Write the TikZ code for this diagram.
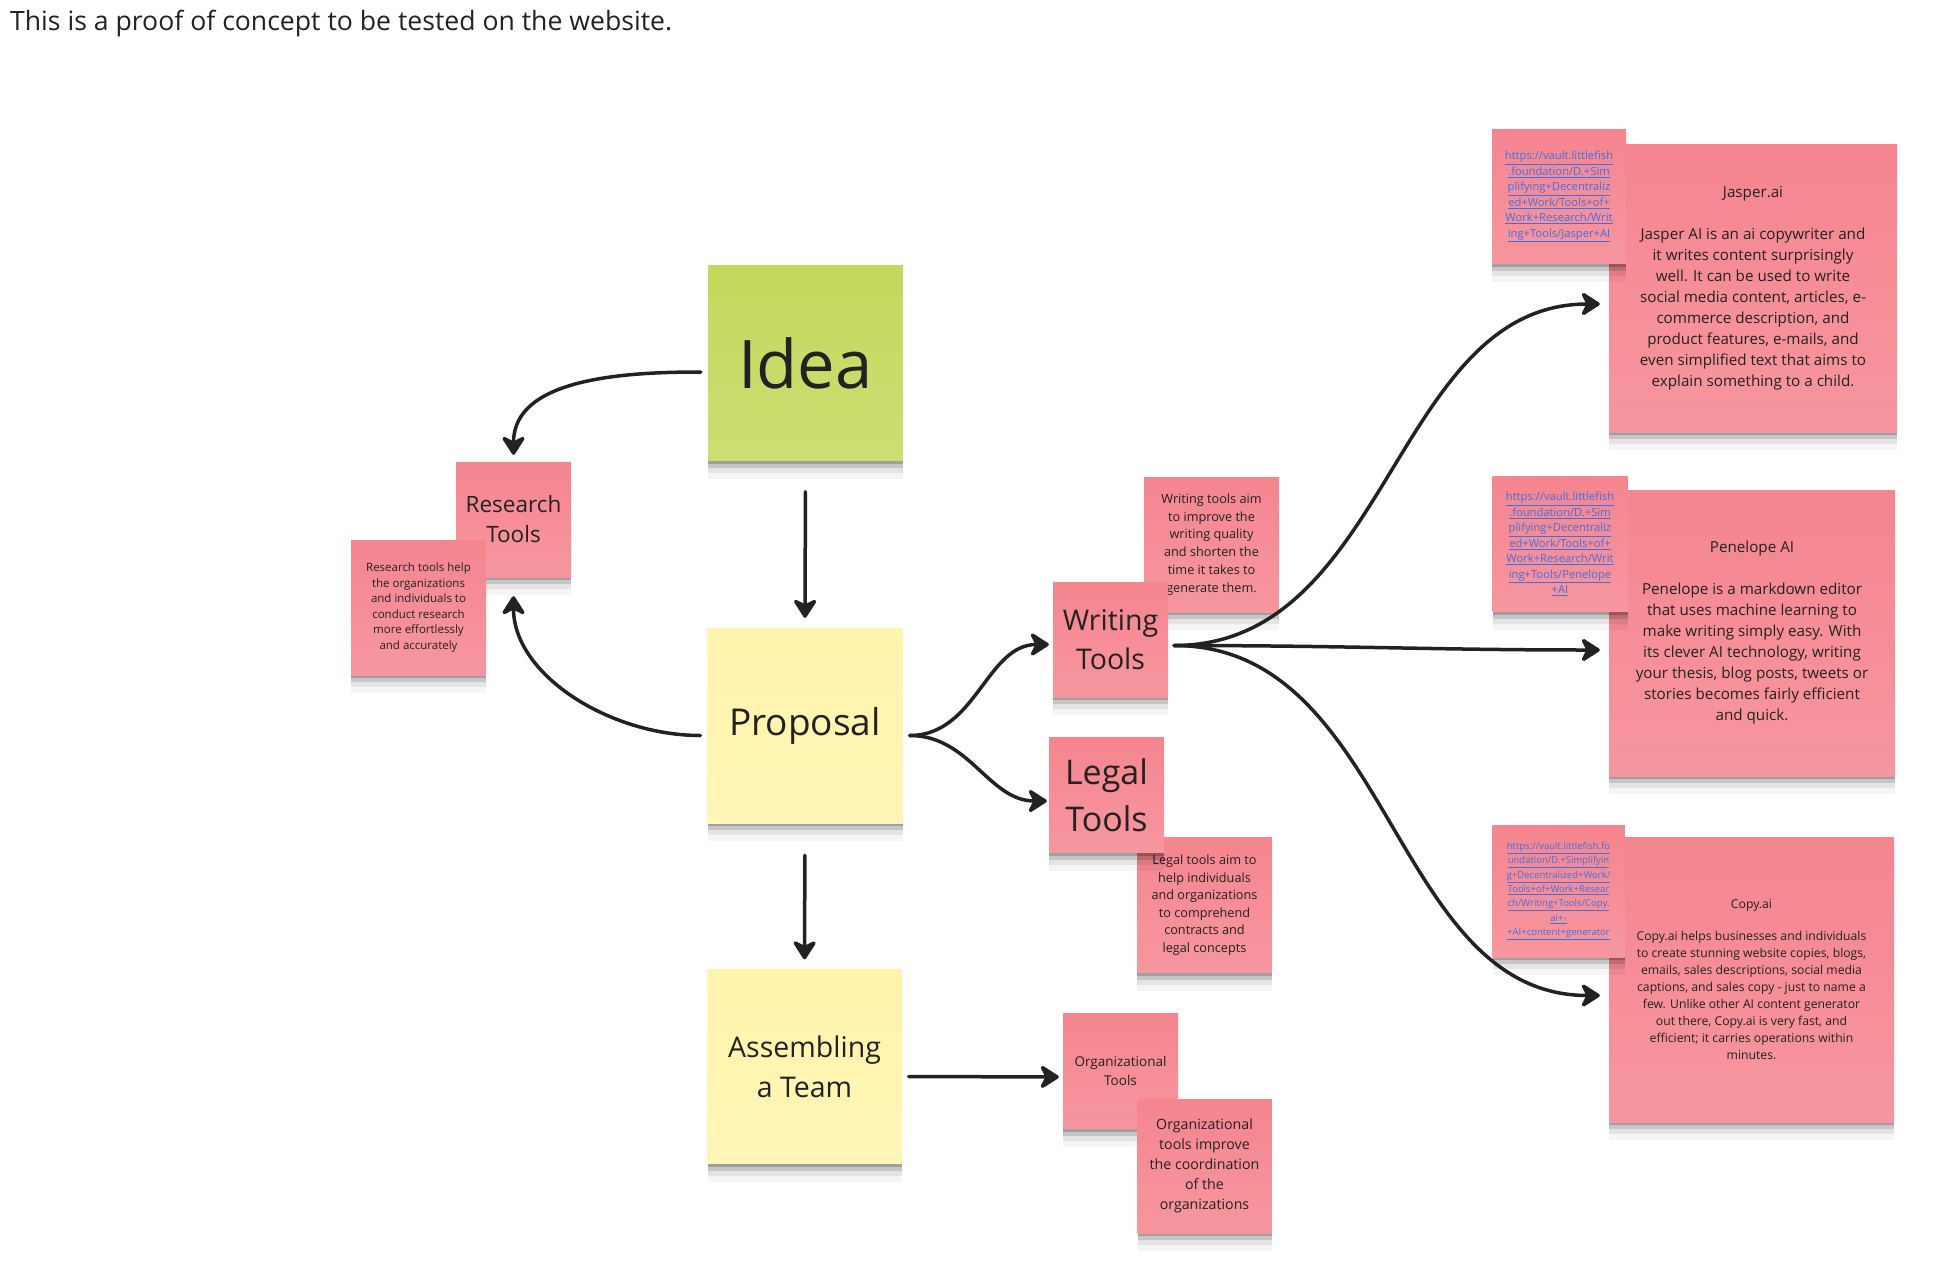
\documentclass[tikz,border=0pt]{standalone}
\usepackage{fontspec}
\setmainfont{Open Sans}
\usetikzlibrary{arrows.meta, shadows}

\definecolor{ink}{HTML}{222222}
\definecolor{ideagreen}{HTML}{C5D85C}
\definecolor{propyellow}{HTML}{FFF4AB}
\definecolor{notepink}{HTML}{F5858F}
\definecolor{linkblue}{HTML}{3F6FE6}
\newcommand{\lnk}[1]{\underline{#1}}
\newcommand{\fs}[2]{\fontsize{#1}{#2}\selectfont}

\begin{document}
\begin{tikzpicture}[x=1pt,y=-1pt]

\tikzset{note/.style = {shape=rectangle, minimum width=#1pt, minimum height=#1pt, inner sep=0pt, align=center, text=ink,
  drop shadow={shadow xshift=0pt, shadow yshift=-3pt, opacity=.2, fill=black},
  drop shadow={shadow xshift=0pt, shadow yshift=-7pt, opacity=.13, fill=black},
  drop shadow={shadow xshift=0pt, shadow yshift=-12pt, opacity=.07, fill=black},
  drop shadow={shadow xshift=0pt, shadow yshift=-18pt, opacity=.04, fill=black}}}
\tikzset{paper/.style = {fill=#1, path picture={\shade[top color=#1, bottom color=#1!86!white] (path picture bounding box.north west) rectangle (path picture bounding box.south east);}}}
\tikzset{edge/.style = {-{Stealth[length=22pt, width=28pt, inset=7pt, round]}, line width=3.5pt, draw=ink, line cap=round}}
\useasboundingbox (0,0) rectangle (1959,1266);

%title
\node[anchor=base west, inner sep=0pt, text=ink, font=\fs{26.6}{31}] (title) at (10,30) {This is a proof of concept to be tested on the website.};

%main stickies
\node[note=195, paper=ideagreen, font=\fs{67}{80}] (idea) at (805.5,363) {Idea};
\node[note=195, paper=propyellow, font=\fs{37}{44}] (prop) at (805,725.5) {Proposal};
\node[note=194, paper=propyellow, font=\fs{28.5}{40}] (team) at (804.5,1066.5) {Assembling\\a Team};

%research
\node[note=115, paper=notepink, font=\fs{22.5}{30}] (res) at (513.5,519.5) {Research\\Tools};
\node[note=135, paper=notepink, font=\fs{11.5}{15.6}] (resd) at (418.5,607.5) {Research tools help\\the organizations\\and individuals to\\conduct research\\more effortlessly\\and accurately};

%writing, legal, organizational
\node[note=135, paper=notepink, font=\fs{12.7}{17.8}] (wrid) at (1211.5,544.5) {Writing tools aim\\to improve the\\writing quality\\and shorten the\\time it takes to\\generate them.};
\node[note=115, paper=notepink, font=\fs{28.5}{39}] (wri) at (1110.5,639.5) {Writing\\Tools};
\node[note=135, paper=notepink, font=\fs{12.7}{17.5}] (legd) at (1204.5,905) {Legal tools aim to\\help individuals\\and organizations\\to comprehend\\contracts and\\legal concepts};
\node[note=115, paper=notepink, font=\fs{34}{47}] (leg) at (1106.5,795) {Legal\\Tools};
\node[note=115, paper=notepink, font=\fs{13.5}{19}] (org) at (1120.5,1071) {Organizational\\Tools};
\node[note=134, paper=notepink, font=\fs{14.2}{20}] (orgd) at (1204.5,1166) {Organizational\\tools improve\\the coordination\\of the\\organizations};

%writing tools
\node[note=288, paper=notepink, font=\fs{15.2}{21}] (jas) at (1753,288) {Jasper.ai\\[21pt]Jasper AI is an ai copywriter and\\it writes content surprisingly\\well. It can be used to write\\social media content, articles, e-\\commerce description, and\\product features, e-mails, and\\even simplified text that aims to\\explain something to a child.};
\node[note=134, paper=notepink, text=linkblue, font=\fs{11.2}{15.5}] (jasl) at (1559,196.5) {\lnk{https://vault.littlefish}\\\lnk{.foundation/D.+Sim}\\\lnk{plifying+Decentraliz}\\\lnk{ed+Work/Tools+of+}\\\lnk{Work+Research/Writ}\\\lnk{ing+Tools/Jasper+AI}};
\node[note=286, paper=notepink, font=\fs{15.2}{21}] (pen) at (1752,633) {Penelope AI\\[21pt]Penelope is a markdown editor\\that uses machine learning to\\make writing simply easy. With\\its clever AI technology, writing\\your thesis, blog posts, tweets or\\stories becomes fairly efficient\\and quick.};
\node[note=135, paper=notepink, text=linkblue, font=\fs{11.2}{15.5}] (penl) at (1560,544) {\lnk{https://vault.littlefish}\\\lnk{.foundation/D.+Sim}\\\lnk{plifying+Decentraliz}\\\lnk{ed+Work/Tools+of+}\\\lnk{Work+Research/Writ}\\\lnk{ing+Tools/Penelope}\\\lnk{+AI}};
\node[note=285, paper=notepink, font=\fs{12.2}{16.9}] (copy) at (1751.5,979.5) {Copy.ai\\[15.5pt]Copy.ai helps businesses and individuals\\to create stunning website copies, blogs,\\emails, sales descriptions, social media\\captions, and sales copy - just to name a\\few. Unlike other AI content generator\\out there, Copy.ai is very fast, and\\efficient; it carries operations within\\minutes.};
\node[note=132, paper=notepink, text=linkblue, font=\fs{9.5}{14.4}] (copyl) at (1558.5,891) {\lnk{https://vault.littlefish.fo}\\\lnk{undation/D.+Simplifyin}\\\lnk{g+Decentralized+Work/}\\\lnk{Tools+of+Work+Resear}\\\lnk{ch/Writing+Tools/Copy.}\\\lnk{ai+-}\\\lnk{+AI+content+generator}};

%arrows
\draw [edge, shorten <=7pt, shorten >=7pt] ([yshift=-9pt]idea.west) to[out=180, in=90] (res.north);
\draw [edge, shorten <=31pt, shorten >=10pt] (idea.south) -- (prop.north);
\draw [edge, shorten <=7pt, shorten >=19pt] ([yshift=-10pt]prop.west) to[out=180, in=-90] (res.south);
\draw [edge, shorten <=32pt, shorten >=10pt] (prop.south) -- (team.north);
\draw [edge, shorten >=4pt] ([xshift=7pt,yshift=-10pt]prop.east) to[out=0, in=180] ([yshift=-5pt]wri.west);
\draw [edge, shorten >=2pt] ([xshift=7pt,yshift=-10pt]prop.east) to[out=0, in=180] ([yshift=-6pt]leg.west);
\draw [edge, shorten >=4pt] ([xshift=7pt,yshift=-10pt]team.east) -- ([yshift=-6pt]org.west);
\draw [edge, shorten >=9pt] ([xshift=6pt,yshift=-6pt]wri.east) to[out=0, in=180] ([yshift=-16pt]jas.west);
\draw [edge, shorten >=9pt] ([xshift=6pt,yshift=-6pt]wri.east) to[out=0, in=180] ([yshift=-17pt]pen.west);
\draw [edge, shorten >=9pt] ([xshift=6pt,yshift=-6pt]wri.east) to[out=0, in=180] ([yshift=-16pt]copy.west);

\end{tikzpicture}
\end{document}
